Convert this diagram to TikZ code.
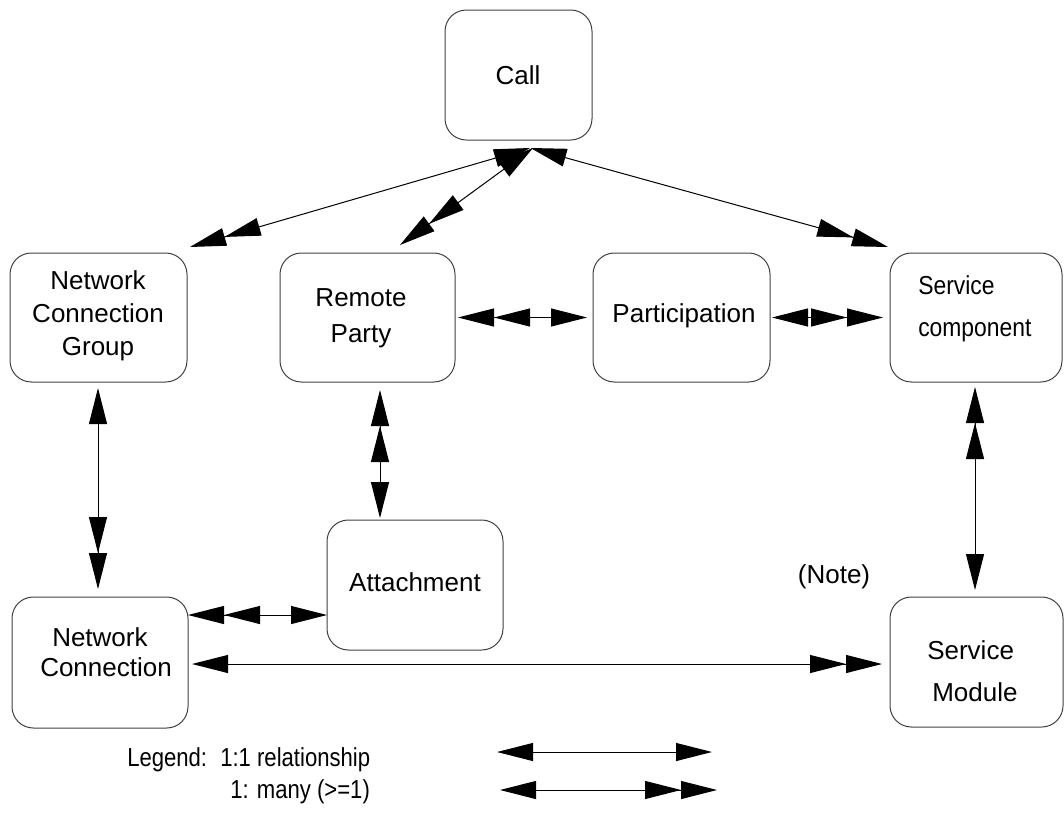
\documentclass[tikz,border=0pt]{standalone}
\usepackage{fontspec}
\setmainfont{Liberation Sans}
\newfontfamily\narrowfont{Liberation Sans}[FakeStretch=0.85]
\newfontfamily\semiwidefont{Liberation Sans}[FakeStretch=0.88]
\usetikzlibrary{arrows.meta,calc}

\tikzset{
  box/.style 2 args={draw=black!75, line width=0.75pt, rounded corners=16pt,
    inner sep=0pt, outer sep=0pt, minimum width=#1*0.75pt, minimum height=#2*0.75pt},
  txt/.style={inner sep=0pt, font=\fontsize{19.5}{23.4}\selectfont},
  legtxt/.style={inner sep=0pt, anchor=west, font=\narrowfont\fontsize{19.5}{23.4}\selectfont},
  link/.style={line width=0.75pt, black},
  oneone/.style={link, {Triangle[length=27pt,width=13.5pt]}-{Triangle[length=27pt,width=13.5pt]}},
  onemany/.style={link, {Triangle[length=27pt,width=13.5pt]}-{Triangle[length=27pt,width=13.5pt]Triangle[length=27pt,width=13.5pt]}},
  manyone/.style={link, {Triangle[length=27pt,width=13.5pt]Triangle[length=27pt,width=13.5pt]}-{Triangle[length=27pt,width=13.5pt]}},
}

\begin{document}
\begin{tikzpicture}[x=0.75pt, y=-0.75pt]
  \useasboundingbox (0,0) rectangle (1064,836);

  % entity boxes
  \node[box={147}{130}] (call) at (518.5,75)   {};
  \node[box={177}{129}] (ncg)  at (98.5,317.5) {};
  \node[box={175}{129}] (rp)   at (367.5,317.5){};
  \node[box={177}{129}] (part) at (681.5,317.5){};
  \node[box={172}{129}] (sc)   at (976,317.5)  {};
  \node[box={176}{130}] (att)  at (415,585)    {};
  \node[box={176}{131}] (nc)   at (100,662.5)  {};
  \node[box={173}{130}] (sm)   at (976.5,662)  {};

  % box labels
  \node[txt] (callt) at (518,75) {Call};
  \node[txt, align=center, font=\fontsize{19.5}{24.75}\selectfont] (ncgt) at (98,316) {Network\\Connection\\Group};
  \node[txt, align=center, font=\fontsize{19.5}{27}\selectfont] (rpt) at (361,318) {Remote\\Party};
  \node[txt] (partt) at (684,316) {Participation};
  \node[txt, align=left, anchor=west, font=\semiwidefont\fontsize{19.5}{31.5}\selectfont] (sct) at (918,309) {Service\\component};
  \node[txt] (attt) at (415,582) {Attachment};
  \node[txt, align=left, anchor=west, font=\fontsize{19.5}{22.5}\selectfont] (nct) at (40,652) {\hspace*{9pt}Network\\Connection};
  \node[txt, align=left, anchor=west, font=\fontsize{19.5}{31.5}\selectfont] (smt) at (927,671) {Service\\\hspace*{3.75pt}Module};
  \node[txt] (note) at (834,577) {(Note)};

  % relationships
  \draw[onemany] ($(call.south)+(11.5,8)$) -- ($(ncg.north east)+(3,-6)$);
  \draw[onemany] ($(call.south)+(14.5,8)$) -- ($(rp.north)+(32.5,-8)$);
  \draw[onemany] ($(call.south)+(12,8)$)   -- ($(sc.north west)+(-2,-6)$);
  \draw[manyone] ($(rp.east)+(3,0)$)     -- ($(part.west)+(-6,0)$);
  \draw[onemany] ($(part.east)+(2,0)$)   -- ($(sc.west)+(-7,0)$);
  \draw[onemany] ($(ncg.south)+(-0.5,6)$) -- ($(nc.north)+(-2,-8)$);
  \draw[manyone] ($(rp.south)+(12.5,8)$) -- ($(att.north)+(-35,-2)$);
  \draw[manyone] ($(sc.south)+(-1,5)$)   -- ($(sm.north)+(-1.5,-7)$);
  \draw[manyone] ($(nc.north east)+(0,18)$) -- ($(att.west)+(0,30)$);
  \draw[onemany] ($(nc.east)+(4,1.5)$)   -- ($(sm.west)+(-8,2)$);

  % legend
  \node[legtxt] (leg)  at (127,760) {Legend:};
  \node[legtxt] (leg1) at (220,760) {1:1 relationship};
  \node[legtxt] (leg2) at (230,792) {1: many (>=1)};
  \coordinate (l1a) at (497,752);
  \coordinate (l1b) at (712,752);
  \coordinate (l2a) at (500,790);
  \coordinate (l2b) at (717,790);
  \draw[oneone]  (l1a) -- (l1b);
  \draw[onemany] (l2a) -- (l2b);
\end{tikzpicture}
\end{document}
